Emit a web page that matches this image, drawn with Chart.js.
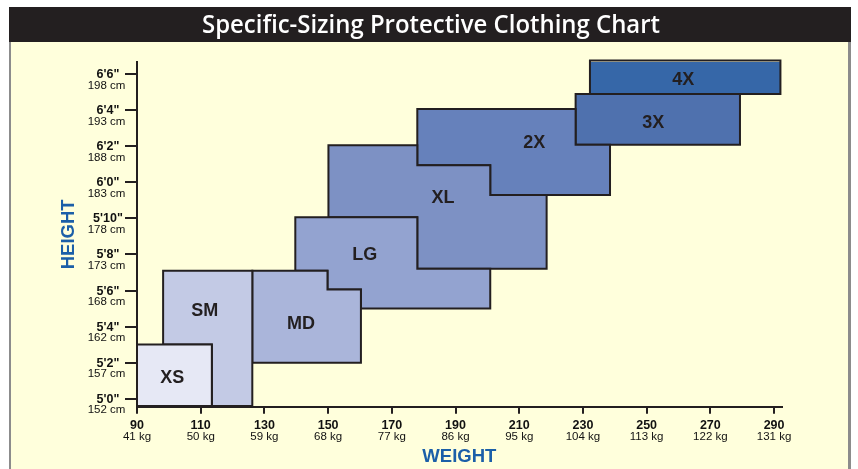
<!DOCTYPE html>
<html><head><meta charset="utf-8">
<script src="https://cdn.jsdelivr.net/npm/chart.js@4.4.1/dist/chart.umd.min.js"></script>
<style>html,body{margin:0;padding:0;background:#fff;overflow:hidden}#wrap{width:858px;height:469px;position:relative}</style>
</head><body><div id="wrap"><canvas id="c" width="858" height="469"></canvas></div>
<script>
// ---- data (weight in lb, height in inches) ----
const sizeNames = ['XS','SM','MD','LG','XL','2X','3X','4X'];
const xsOutline = [[90,59.6],[90,63.0],[113.5,63.0],[113.5,59.6]];
const smOutline = [[98.2,63.0],[98.2,67.1],[126.2,67.1],[126.2,59.6],[113.5,59.6],[113.5,63.0]];
const mdOutline = [[126.2,62.0],[126.2,67.1],[149.8,67.1],[149.8,66.05],[160.3,66.05],[160.3,62.0]];
const lgOutline = [[139.7,67.1],[139.7,70.06],[178,70.06],[178,67.2],[200.9,67.2],[200.9,65.0],[160.3,65.0],[160.3,66.05],[149.8,66.05],[149.8,67.1]];
const xlOutline = [[150.1,70.06],[150.1,74.06],[178,74.06],[178,72.95],[200.9,72.95],[200.9,71.3],[218.6,71.3],[218.6,67.2],[178,67.2],[178,70.06]];
const x2Outline = [[178,72.95],[178,76.06],[227.7,76.06],[227.7,74.08],[238.5,74.08],[238.5,71.3],[200.9,71.3],[200.9,72.95]];
const x3Outline = [[227.7,74.08],[227.7,76.9],[279.3,76.9],[279.3,74.08]];
const x4Outline = [[232.2,76.9],[232.2,78.75],[292,78.75],[292,76.9]];
const outlines = [xsOutline, smOutline, mdOutline, lgOutline, xlOutline, x2Outline, x3Outline, x4Outline];
const labelWeight = [101.1, 111.3, 141.5, 161.5, 186.1, 214.7, 252.1, 261.5];
const labelHeight = [61.18, 64.93, 64.18, 68.02, 71.16, 74.21, 75.33, 77.72];

const weightTicks = [90,110,130,150,170,190,210,230,250,270,290];
const weightKg = ['41 kg','50 kg','59 kg','68 kg','77 kg','86 kg','95 kg','104 kg','113 kg','122 kg','131 kg'];
const heightTicks = [60,62,64,66,68,70,72,74,76,78];
const heightFeet = ['5\'0"','5\'2"','5\'4"','5\'6"','5\'8"','5\'10"','6\'0"','6\'2"','6\'4"','6\'6"'];
const heightCm = ['152 cm','157 cm','162 cm','168 cm','173 cm','178 cm','183 cm','188 cm','193 cm','198 cm'];

const fills = ['#e6e8f5','#c3cae5','#aab5da','#93a3d0','#7d91c4','#6681bb','#4f71ae','#3667a8'];
const ink = '#231f20';

const pagePlugin = {
  id: 'page',
  beforeDraw(chart) {
    const ctx = chart.ctx;
    ctx.save();
    ctx.fillStyle = '#ffffff'; ctx.fillRect(0,0,858,469);
    ctx.fillStyle = '#8c8c8c'; ctx.fillRect(9,42,842,427);
    ctx.fillStyle = '#ffffdc'; ctx.fillRect(11,42,837,427);
    ctx.fillStyle = ink; ctx.fillRect(9,7,842,35);
    ctx.fillStyle = '#ffffff';
    ctx.font = '600 25px "Open Sans"';
    ctx.textAlign = 'center'; ctx.textBaseline = 'alphabetic';
    const t = 'Specific-Sizing Protective Clothing Chart';
    const w = ctx.measureText(t).width;
    ctx.translate(431, 33);
    ctx.scale(458 / w, 1);
    ctx.fillText(t, 0, 0);
    ctx.restore();
  },
  afterDatasetsDraw(chart) {
    const ctx = chart.ctx;
    const xs = chart.scales.x, ys = chart.scales.y;
    ctx.save();
    ctx.fillStyle = ink;
    ctx.textAlign = 'center';
    ctx.textBaseline = 'middle';
    ctx.font = 'bold 18px "Liberation Sans", Arial, sans-serif';
    sizeNames.forEach((n, i) => {
      ctx.fillText(n, xs.getPixelForValue(labelWeight[i]), ys.getPixelForValue(labelHeight[i]) + 1);
    });
    ctx.fillStyle = '#111';
    ctx.textBaseline = 'alphabetic';
    heightTicks.forEach((v, i) => {
      const py = ys.getPixelForValue(v);
      ctx.font = 'bold 12.5px "Liberation Sans", Arial, sans-serif';
      ctx.fillText(heightFeet[i], 108, py + 4);
      ctx.font = '11.5px "Liberation Sans", Arial, sans-serif';
      ctx.fillText(heightCm[i], 106.5, py + 14.5);
    });
    weightTicks.forEach((v, i) => {
      const px = xs.getPixelForValue(v);
      ctx.font = 'bold 12.5px "Liberation Sans", Arial, sans-serif';
      ctx.fillText(String(v), px, 429);
      ctx.font = '11.5px "Liberation Sans", Arial, sans-serif';
      ctx.fillText(weightKg[i], px, 439.5);
    });
    ctx.restore();
  }
};

const datasets = outlines.map((o, i) => ({
  label: sizeNames[i],
  data: o.concat([o[0]]).map(p => ({x: p[0], y: p[1]})),
  backgroundColor: fills[i],
  borderColor: ink,
  borderWidth: 2,
  borderJoinStyle: 'miter',
  pointRadius: 0,
  pointHoverRadius: 0,
  tension: 0,
  fill: 'shape',
  clip: false
}));

new Chart(document.getElementById('c'), {
  type: 'line',
  data: { datasets },
  plugins: [pagePlugin],
  options: {
    responsive: false,
    animation: false,
    events: [],
    layout: { padding: { left: 40, right: 76.3, top: 62, bottom: 0 } },
    plugins: { legend: { display: false }, tooltip: { enabled: false }, title: { display: false } },
    scales: {
      x: {
        type: 'linear', min: 90, max: 292.4,
        afterBuildTicks: s => { s.ticks = weightTicks.map(v => ({ value: v })); },
        afterFit: s => { s.height = 62.3; },
        ticks: { display: false },
        grid: { drawOnChartArea: false, drawTicks: true, tickLength: 7, lineWidth: 2, color: ink },
        border: { display: true, width: 2, color: ink },
        title: { display: true, text: 'WEIGHT', color: '#1b5fa8',
          font: { family: '"Liberation Sans", Arial, sans-serif', size: 18.5, weight: 'bold', lineHeight: 1.2 },
          padding: { top: 0, bottom: 0.8 } }
      },
      y: {
        type: 'linear', min: 59.557, max: 78.67,
        afterBuildTicks: s => { s.ticks = heightTicks.map(v => ({ value: v })); },
        afterFit: s => { s.width = 97; },
        ticks: { display: false },
        grid: { drawOnChartArea: false, drawTicks: true, tickLength: 12, lineWidth: 2, color: ink },
        border: { display: true, width: 2, color: ink },
        title: { display: true, text: 'HEIGHT', color: '#1b5fa8',
          font: { family: '"Liberation Sans", Arial, sans-serif', size: 18.5, weight: 'bold', lineHeight: 1.2 },
          padding: { top: 17.5, bottom: 0 } }
      }
    }
  }
});
</script>
</body></html>
